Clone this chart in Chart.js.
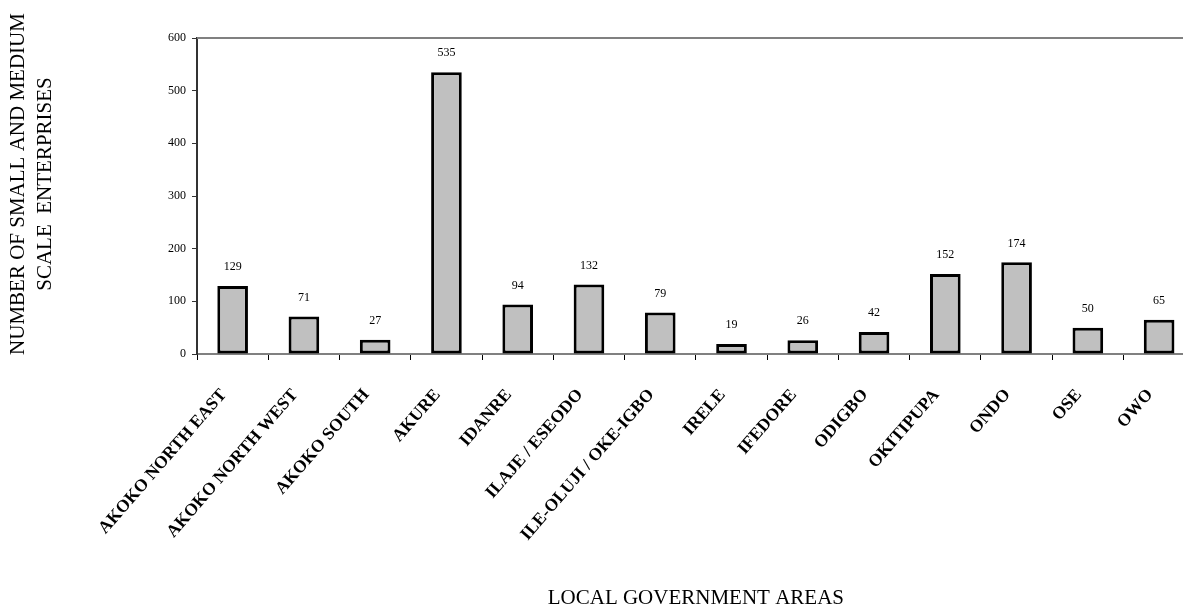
<!DOCTYPE html>
<html>
<head>
<meta charset="utf-8">
<title>Small and medium scale enterprises by local government area</title>
<script src="https://cdn.jsdelivr.net/npm/chart.js@4/dist/chart.umd.min.js"></script>
<style>
  html, body { margin: 0; padding: 0; background: #fff; overflow: hidden; }
  #wrap { width: 1200px; height: 604px; }
</style>
</head>
<body>
<div id="wrap"><canvas id="c" width="1200" height="604"></canvas></div>
<script>
// Local government areas and their number of small and medium scale enterprises
const areas = [
  "AKOKO NORTH EAST", "AKOKO NORTH WEST", "AKOKO SOUTH", "AKURE", "IDANRE",
  "ILAJE / ESEODO", "ILE-OLUJI / OKE-IGBO", "IRELE", "IFEDORE", "ODIGBO",
  "OKITIPUPA", "ONDO", "OSE", "OWO"
];
const enterprises = [129, 71, 27, 535, 94, 132, 79, 19, 26, 42, 152, 174, 50, 65];
const yTicks = [0, 100, 200, 300, 400, 500, 600];
const yTitle = ["NUMBER OF SMALL AND MEDIUM", "SCALE  ENTERPRISES"];
const xTitle = "LOCAL GOVERNMENT AREAS";

const SERIF = "'Liberation Serif', 'Times New Roman', serif";

// Value written above every bar
const barValues = {
  id: 'barValues',
  afterDatasetsDraw(chart) {
    const ctx = chart.ctx;
    const meta = chart.getDatasetMeta(0);
    ctx.save();
    ctx.font = "12px " + SERIF;
    ctx.fillStyle = "#000";
    ctx.textAlign = "center";
    ctx.textBaseline = "middle";
    meta.data.forEach((bar, i) => {
      ctx.fillText(String(enterprises[i]), bar.x, bar.y - 19);
    });
    ctx.restore();
  }
};

// Grey frame line along the top of the plot area
const topFrame = {
  id: 'topFrame',
  beforeDatasetsDraw(chart) {
    const { ctx, chartArea } = chart;
    ctx.save();
    ctx.strokeStyle = "#808080";
    ctx.lineWidth = 2;
    ctx.beginPath();
    ctx.moveTo(chartArea.left, chartArea.top);
    ctx.lineTo(chartArea.right + 10, chartArea.top);
    ctx.stroke();
    ctx.restore();
  }
};

// Two-line vertical title of the value axis
const valueAxisTitle = {
  id: 'valueAxisTitle',
  afterDraw(chart) {
    const ctx = chart.ctx;
    ctx.save();
    ctx.font = "21px " + SERIF;
    ctx.fillStyle = "#000";
    ctx.textAlign = "center";
    ctx.textBaseline = "middle";
    ctx.translate(0, 184);
    ctx.rotate(-Math.PI / 2);
    ctx.fillText(yTitle[0], 0, 18);
    ctx.fillText(yTitle[1], 0, 45);
    ctx.restore();
  }
};

new Chart(document.getElementById('c'), {
  type: 'bar',
  data: {
    labels: areas,
    datasets: [{
      data: enterprises,
      backgroundColor: "#c0c0c0",
      borderColor: "#000",
      borderWidth: 3,
      borderSkipped: false,
      categoryPercentage: 1,
      barPercentage: 0.43
    }]
  },
  options: {
    responsive: false,
    animation: false,
    events: [],
    layout: { padding: { top: 38, right: 1, left: 0, bottom: 0 } },
    plugins: {
      legend: { display: false },
      tooltip: { enabled: false }
    },
    scales: {
      x: {
        grid: {
          offset: true,
          drawOnChartArea: false,
          drawTicks: true,
          tickLength: 6,
          color: "#000"
        },
        border: { color: "#808080", width: 2 },
        ticks: {
          autoSkip: false,
          minRotation: 49,
          maxRotation: 49,
          padding: 25,
          labelOffset: -9,
          color: "#000",
          font: { family: SERIF, size: 17.5, weight: "bold" }
        },
        title: {
          display: true,
          text: xTitle,
          color: "#000",
          font: { family: SERIF, size: 21, lineHeight: 0.5 },
          padding: { top: 0, bottom: 0 }
        },
        afterFit(scale) { scale.height = 250; }
      },
      y: {
        min: 0,
        max: 600,
        afterBuildTicks(scale) {
          scale.ticks = yTicks.map(v => ({ value: v }));
        },
        grid: {
          drawOnChartArea: false,
          drawTicks: true,
          tickLength: 5,
          color: "#333"
        },
        border: { color: "#333", width: 2 },
        ticks: {
          padding: 6,
          color: "#000",
          font: { family: SERIF, size: 12 }
        },
        afterFit(scale) { scale.width = 197; }
      }
    }
  },
  plugins: [barValues, topFrame, valueAxisTitle]
});
</script>
</body>
</html>
